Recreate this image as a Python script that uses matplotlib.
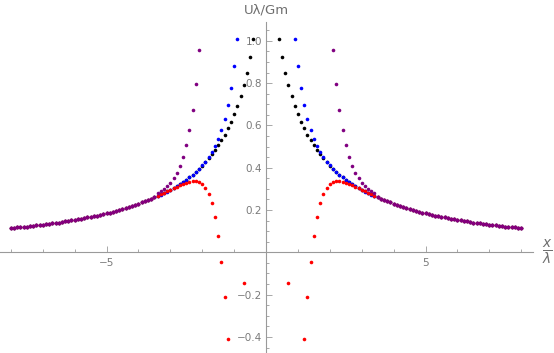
import numpy as np
import matplotlib
matplotlib.use("Agg")
import matplotlib.pyplot as plt
from matplotlib.ticker import MultipleLocator, FixedLocator

plt.rcParams["font.family"] = ["DejaVu Sans"]
plt.rcParams["axes.unicode_minus"] = True

# 数据（只读取了 x>0 一侧，左侧按对称镜像）
x_inner = [0.4, 0.5, 0.6, 0.7, 0.8, 0.9, 1.0, 1.1, 1.2, 1.3, 1.4, 1.5, 1.6, 1.7, 1.8, 1.9,
           2.0, 2.1, 2.2, 2.3, 2.4, 2.5, 2.6, 2.7, 2.8, 2.9, 3.0, 3.1, 3.2, 3.3, 3.4]
nan = np.nan
black_inner = [1.008, 0.922, 0.848, 0.790, 0.739, 0.692, 0.652, 0.616, 0.586, 0.556, 0.530, 0.506,
               0.486, 0.466, 0.446, 0.427, 0.410, 0.394, 0.380, 0.367, 0.355, 0.344, 0.333, 0.322,
               0.313, 0.304, 0.295, 0.288, 0.281, 0.274, 0.268]
blue_inner = [nan, nan, nan, nan, nan, 1.008, 0.879, 0.776, 0.696, 0.631, 0.577, 0.538,
              0.503, 0.474, 0.449, 0.428, 0.411, 0.395, 0.380, 0.367, 0.355, 0.343, 0.332, 0.321,
              0.312, 0.303, 0.294, 0.287, 0.280, 0.273, 0.267]
red_inner = [nan, nan, nan, -0.147, nan, nan, nan, nan, -0.409, -0.210, -0.047, 0.077,
             0.167, 0.234, 0.277, 0.304, 0.322, 0.332, 0.337, 0.337, 0.333, 0.328, 0.324, 0.318,
             0.311, 0.303, 0.295, 0.288, 0.281, 0.274, 0.268]
purple_inner = [nan, nan, nan, nan, nan, nan, nan, nan, nan, nan, nan, nan,
                nan, nan, nan, nan, nan, 0.958, 0.796, 0.673, 0.580, 0.506, 0.452, 0.410,
                0.376, 0.350, 0.330, 0.314, 0.301, 0.290, 0.280]

# 远处四条曲线重合
x_tail = [3.5, 3.6, 3.7, 3.8, 3.9, 4.0, 4.1, 4.2, 4.3, 4.4, 4.5, 4.6, 4.7, 4.8, 4.9, 5.0,
          5.1, 5.2, 5.3, 5.4, 5.5, 5.6, 5.7, 5.8, 5.9, 6.0, 6.1, 6.2, 6.3, 6.4, 6.5, 6.6,
          6.7, 6.8, 6.9, 7.0, 7.1, 7.2, 7.3, 7.4, 7.5, 7.6, 7.7, 7.8, 7.9, 8.0]
tail = [0.261, 0.254, 0.248, 0.242, 0.236, 0.230, 0.225, 0.220, 0.215, 0.210, 0.205, 0.200,
        0.196, 0.192, 0.188, 0.184, 0.181, 0.177, 0.174, 0.171, 0.168, 0.165, 0.162, 0.159,
        0.156, 0.153, 0.151, 0.148, 0.146, 0.144, 0.141, 0.139, 0.137, 0.135, 0.133, 0.131,
        0.129, 0.127, 0.126, 0.124, 0.122, 0.121, 0.119, 0.118, 0.117, 0.116]

series = [("black", black_inner), ("#0000ff", blue_inner),
          ("#ff0000", red_inner), ("#800080", purple_inner)]


def full_series(inner):
    xs = np.array(x_inner + x_tail)
    ys = np.array(inner + tail)
    return np.concatenate([-xs[::-1], xs]), np.concatenate([ys[::-1], ys])


fig = plt.figure(figsize=(5.54, 3.53), dpi=100)
ax = fig.add_axes([0, 0, 533 / 554, 331 / 353])

for color, inner in series:
    xs, ys = full_series(inner)
    ax.plot(xs, ys, "o", color=color, markersize=2.6, markeredgewidth=0, clip_on=True)

ax.set_xlim(-8.34, 8.37)
ax.set_ylim(-0.476, 1.089)

grey = "#9a9a9a"
for side in ["top", "right"]:
    ax.spines[side].set_visible(False)
ax.spines["left"].set_position(("data", 0))
ax.spines["bottom"].set_position(("data", 0))
for side in ["left", "bottom"]:
    ax.spines[side].set_color(grey)
    ax.spines[side].set_linewidth(0.8)

ax.xaxis.set_major_locator(FixedLocator([-5, 5]))
ax.xaxis.set_minor_locator(FixedLocator([v for v in range(-8, 9) if v not in (-5, 0, 5)]))
ax.yaxis.set_major_locator(FixedLocator([-0.4, -0.2, 0.2, 0.4, 0.6, 0.8, 1.0]))
ax.yaxis.set_minor_locator(MultipleLocator(0.05))
ax.xaxis.set_major_formatter(plt.FuncFormatter(lambda v, p: f"{v:g}".replace("-", "\u2212")))
ax.yaxis.set_major_formatter(plt.FuncFormatter(lambda v, p: f"{v:.1f}".replace("-", "\u2212")))

ax.tick_params(axis="both", which="both", direction="in", colors=grey,
               labelcolor="#7a7a7a", labelsize=7.5, width=0.6)
ax.tick_params(axis="both", which="major", length=4)
ax.tick_params(axis="both", which="minor", length=2.5)
ax.tick_params(axis="x", pad=4)
ax.tick_params(axis="y", pad=3)

fig.text(266 / 554, 1 - 10 / 353, "U\u03bb/Gm", ha="center", va="center",
         color="#6e6e6e", fontsize=9.5)
fig.text(547 / 554, 1 - 252 / 353, r"$\frac{x}{\lambda}$", ha="center", va="center",
         color="#6e6e6e", fontsize=14)

fig.savefig("out.png", dpi=100)
